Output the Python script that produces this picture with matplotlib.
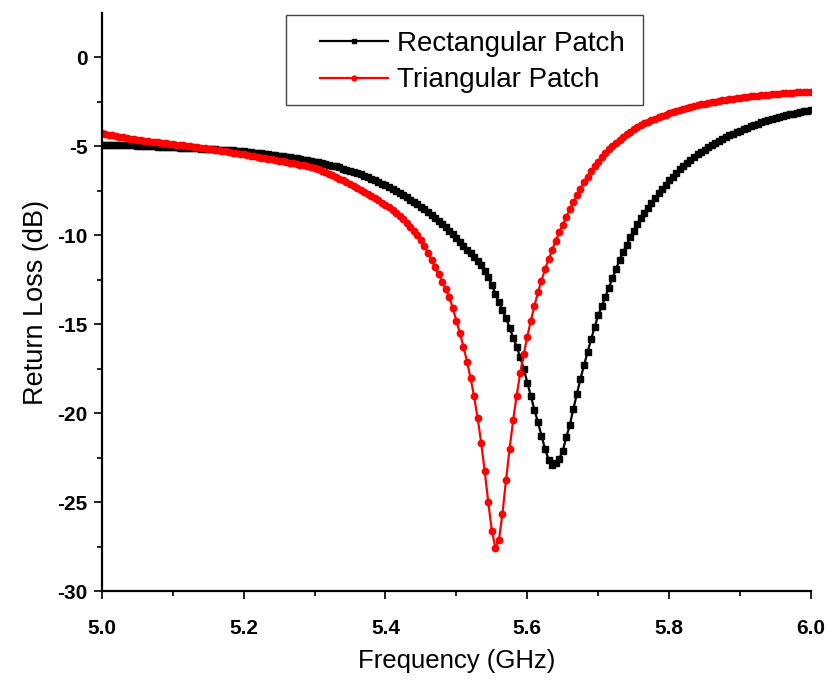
import numpy as np
import matplotlib
matplotlib.use("Agg")
import matplotlib.pyplot as plt
from matplotlib.patches import Rectangle
from matplotlib.ticker import MultipleLocator

plt.rcParams['font.family'] = ['Liberation Sans', 'DejaVu Sans']

# frequency grid of the simulation (GHz), 5 MHz step
freq = np.round(np.linspace(5.0, 6.0, 201), 3)

# return loss (dB)
rect_patch = [
    -4.90, -4.90, -4.91, -4.91, -4.92, -4.92, -4.93, -4.94, -4.94, -4.95,
    -4.96, -4.97, -4.98, -4.99, -5.00, -5.01, -5.02, -5.03, -5.04, -5.05,
    -5.05, -5.06, -5.07, -5.08, -5.09, -5.10, -5.11, -5.12, -5.13, -5.14,
    -5.15, -5.16, -5.17, -5.18, -5.19, -5.20, -5.21, -5.23, -5.25, -5.27,
    -5.29, -5.31, -5.33, -5.35, -5.37, -5.39, -5.42, -5.44, -5.47, -5.50,
    -5.53, -5.56, -5.59, -5.62, -5.65, -5.68, -5.71, -5.75, -5.78, -5.82,
    -5.86, -5.90, -5.94, -5.98, -6.03, -6.08, -6.13, -6.19, -6.25, -6.31,
    -6.37, -6.44, -6.51, -6.58, -6.66, -6.74, -6.82, -6.91, -7.00, -7.09,
    -7.18, -7.28, -7.39, -7.50, -7.62, -7.74, -7.86, -7.99, -8.12, -8.25,
    -8.39, -8.54, -8.70, -8.86, -9.03, -9.20, -9.38, -9.56, -9.75, -9.95,
    -10.16, -10.38, -10.60, -10.80, -11.00, -11.20, -11.42, -11.68, -11.98, -12.35,
    -12.80, -13.28, -13.75, -14.20, -14.66, -15.18, -15.75, -16.25, -16.85, -17.50,
    -18.27, -19.05, -19.80, -20.50, -21.26, -22.00, -22.60, -22.92, -22.80, -22.55,
    -22.10, -21.35, -20.64, -19.75, -18.90, -18.05, -17.30, -16.55, -15.85, -15.15,
    -14.50, -13.98, -13.47, -12.95, -12.42, -11.90, -11.40, -10.95, -10.52, -10.12,
    -9.74, -9.38, -9.05, -8.74, -8.45, -8.17, -7.90, -7.64, -7.39, -7.15,
    -6.92, -6.70, -6.49, -6.29, -6.10, -5.93, -5.77, -5.61, -5.46, -5.32,
    -5.18, -5.05, -4.93, -4.81, -4.70, -4.59, -4.49, -4.39, -4.30, -4.21,
    -4.12, -4.03, -3.95, -3.87, -3.79, -3.72, -3.65, -3.58, -3.52, -3.46,
    -3.40, -3.35, -3.30, -3.25, -3.20, -3.16, -3.12, -3.08, -3.04, -3.00,
    -2.96,
]

tri_patch = [
    -4.28, -4.32, -4.35, -4.39, -4.42, -4.46, -4.50, -4.54, -4.57, -4.60,
    -4.63, -4.66, -4.68, -4.71, -4.73, -4.75, -4.78, -4.80, -4.83, -4.85,
    -4.88, -4.90, -4.93, -4.95, -4.98, -5.00, -5.02, -5.05, -5.08, -5.11,
    -5.14, -5.17, -5.20, -5.23, -5.26, -5.29, -5.32, -5.35, -5.39, -5.42,
    -5.45, -5.49, -5.52, -5.56, -5.59, -5.63, -5.66, -5.70, -5.73, -5.77,
    -5.80, -5.84, -5.88, -5.91, -5.95, -5.99, -6.03, -6.07, -6.12, -6.17,
    -6.22, -6.30, -6.38, -6.46, -6.54, -6.63, -6.72, -6.81, -6.91, -7.01,
    -7.11, -7.22, -7.33, -7.44, -7.56, -7.68, -7.80, -7.92, -8.04, -8.16,
    -8.29, -8.43, -8.58, -8.74, -8.91, -9.10, -9.30, -9.51, -9.73, -9.96,
    -10.25, -10.60, -10.98, -11.38, -11.78, -12.18, -12.60, -13.02, -13.46, -14.10,
    -14.80, -15.50, -16.25, -17.10, -18.00, -19.05, -20.27, -21.67, -23.26, -25.00,
    -26.60, -27.55, -27.10, -25.63, -23.76, -22.00, -20.40, -19.00, -17.74, -16.68,
    -15.69, -14.80, -13.97, -13.20, -12.55, -11.90, -11.35, -10.85, -10.30, -9.84,
    -9.40, -8.97, -8.55, -8.15, -7.75, -7.38, -7.03, -6.70, -6.40, -6.12,
    -5.86, -5.61, -5.38, -5.17, -4.97, -4.79, -4.62, -4.46, -4.31, -4.17,
    -4.04, -3.92, -3.81, -3.71, -3.61, -3.52, -3.44, -3.36, -3.29, -3.22,
    -3.15, -3.09, -3.03, -2.97, -2.91, -2.85, -2.80, -2.75, -2.70, -2.65,
    -2.61, -2.57, -2.53, -2.49, -2.46, -2.42, -2.39, -2.36, -2.33, -2.30,
    -2.27, -2.25, -2.22, -2.20, -2.18, -2.16, -2.14, -2.12, -2.10, -2.08,
    -2.06, -2.04, -2.03, -2.01, -2.00, -1.98, -1.97, -1.96, -1.95, -1.94,
    -1.93,
]

x_ticks = [5.0, 5.2, 5.4, 5.6, 5.8, 6.0]
y_ticks = [-30, -25, -20, -15, -10, -5, 0]

fig = plt.figure(figsize=(8.29, 6.84), dpi=100)
ax = fig.add_axes([0.1227, 0.1355, 0.8556, 0.845])

ax.plot(freq, rect_patch, color='black', marker='s', markersize=4.3, lw=1.6,
        label='Rectangular Patch')
ax.plot(freq, tri_patch, color='#ff0000', marker='o', markersize=4.6, lw=1.6,
        label='Triangular Patch')

ax.set_xlim(5.0, 6.0)
ax.set_ylim(-30, 2.47)
ax.set_xticks(x_ticks)
ax.set_yticks(y_ticks)
ax.set_xticklabels([f'{v:.1f}' for v in x_ticks])
ax.set_yticklabels([str(v) for v in y_ticks])
ax.xaxis.set_minor_locator(MultipleLocator(0.1))
ax.yaxis.set_minor_locator(MultipleLocator(2.5))

for side in ['top', 'right']:
    ax.spines[side].set_visible(False)
for side in ['left', 'bottom']:
    ax.spines[side].set_linewidth(1.6)

ax.tick_params(which='major', direction='out', length=6, width=1.2, labelsize=15, pad=4)
ax.tick_params(which='minor', direction='out', length=3.5, width=1.2)
ax.tick_params(axis='x', which='major', pad=14)
plt.setp(ax.get_xticklabels(), fontweight='bold')
plt.setp(ax.get_yticklabels(), fontweight='bold')

ax.set_xlabel('Frequency (GHz)', fontsize=18.5, labelpad=8)
ax.set_ylabel('Return Loss (dB)', fontsize=19.5, labelpad=6)

# legend without frame, frame drawn as a plain box like the original
ax.legend(loc='upper left', bbox_to_anchor=(0.3078, 0.970), frameon=False,
          borderpad=0, borderaxespad=0, handlelength=2.45, handletextpad=0.33,
          labelspacing=0.38, fontsize=20, numpoints=1, markerscale=0.75)
ax.add_patch(Rectangle((0.2598, 0.841), 0.7631 - 0.2598, 0.997 - 0.841,
                       transform=ax.transAxes, fill=False, edgecolor='#444444',
                       lw=1.0, clip_on=False))

fig.savefig('out.png', dpi=100)
